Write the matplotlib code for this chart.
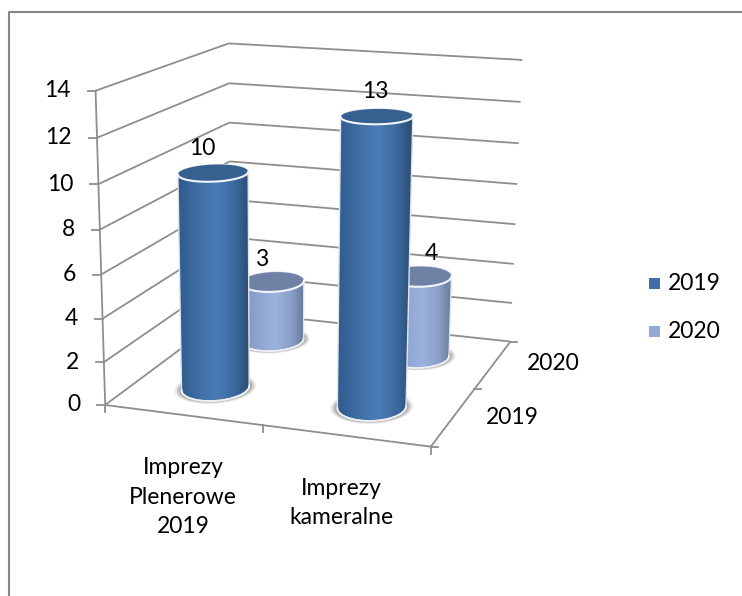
import numpy as np
import matplotlib
matplotlib.use("Agg")
import matplotlib.pyplot as plt
from matplotlib.colors import LinearSegmentedColormap
from matplotlib.patches import Polygon

categories = ["Imprezy\nPlenerowe\n2019", "Imprezy\nkameralne"]
series_names = ["2019", "2020"]
values_2019 = [10, 13]
values_2020 = [3, 4]
z_ticks = [0, 2, 4, 6, 8, 10, 12, 14]

plt.rcParams["font.family"] = ["Lato", "DejaVu Sans"]
FS = 16.5
GREY = "#8e8e8e"

fig = plt.figure(figsize=(7.42, 5.96), dpi=100)
ax = fig.add_axes([0, 0, 1, 1])

# Projective camera of the 3D box: (category, depth, value) -> pixel
world = np.array([(0, 0, 0), (0, 0, 14), (0, 2, 0), (0, 2, 14),
                  (2, 2, 0), (2, 2, 14), (2, 0, 0), (2, 0, 14)], float)
pix = np.array([(106.7, 403), (94, 89), (229, 314), (230.7, 44),
                (511.7, 339.3), (521, 59), (430, 448.3), (441, 116)], float)
A = []
for (X, Y, Z), (u, v) in zip(world, pix):
    A.append([X, Y, Z, 1, 0, 0, 0, 0, -u * X, -u * Y, -u * Z, -u])
    A.append([0, 0, 0, 0, X, Y, Z, 1, -v * X, -v * Y, -v * Z, -v])
P = np.linalg.svd(np.array(A))[2][-1].reshape(3, 4)


def proj(x, d, z):
    x, d, z = np.broadcast_arrays(x, d, z)
    h = P @ np.vstack([x.ravel(), d.ravel(), z.ravel(), np.ones(x.size)])
    return h[0] / h[2], h[1] / h[2]


def seg(a, b, **kw):
    xs, ys = proj(*np.array([a, b], float).T)
    ax.plot(xs, ys, color=GREY, lw=kw.get("lw", 1.3), solid_capstyle="butt", zorder=kw.get("z", 2))


# chart frame (top and left edges only are in view)
ax.plot([9, 9, 742], [596, 11.5, 11.5], color="#868686", lw=1.5, zorder=1)

# walls, gridlines, axes
for z in z_ticks:
    seg((0, 0, z), (0, 2, z))
    seg((0, 2, z), (2, 2, z))
    xt, yt = proj(0, 0, z)
    ax.plot([xt[0] - 8, xt[0]], [yt[0], yt[0]], color=GREY, lw=1.3, zorder=2)
    ax.text(xt[0] - 25, yt[0], str(z), ha="right", va="center", fontsize=FS, color="black")
seg((0, 0, 0), (0, 0, 14))
seg((0, 0, 0), (2, 0, 0))
seg((2, 0, 0), (2, 2, 0))
for c in (0, 1, 2):
    xt, yt = proj(c, 0, 0)
    ax.plot([xt[0], xt[0]], [yt[0], yt[0] + 7], color=GREY, lw=1.3, zorder=2)
for d in (0, 1, 2):
    xt, yt = proj(2, d, 0)
    ax.plot([xt[0], xt[0] + 7], [yt[0], yt[0]], color=GREY, lw=1.3, zorder=2)

dark_cm = LinearSegmentedColormap.from_list("d", [(0, "#2f5a8c"), (.3, "#3f6fa6"), (.55, "#4a7cb6"),
                                                   (.8, "#3b689c"), (1, "#2b4a70")])
light_cm = LinearSegmentedColormap.from_list("l", [(0, "#7c90b8"), (.3, "#90a6d2"), (.55, "#9bb2de"),
                                                    (.8, "#8ba0c8"), (1, "#66799a")])
styles = {0: (dark_cm, "#36608f"), 1: (light_cm, "#6f82a6")}
RX, RD = 0.2, 0.24
t = np.linspace(0, 2 * np.pi, 360, endpoint=False)


def side_arc(xs, ys, want_lower):
    """Ordered left-to-right arc of a projected circle between its x extremes."""
    il, ir = int(xs.argmin()), int(xs.argmax())
    n = len(xs)
    a = [(il + k) % n for k in range((ir - il) % n + 1)]
    b = [(il - k) % n for k in range((il - ir) % n + 1)]
    lower_first = ys[a].mean() > ys[b].mean()
    sel = a if lower_first == want_lower else b
    return np.c_[xs[sel], ys[sel]]


def cylinder(c, s, val, zo):
    cm, topcol = styles[s]
    cx, cd = c + .5, s + .5
    bx, by = proj(cx + RX * np.cos(t), cd + RD * np.sin(t), 0 * t)
    tx, ty = proj(cx + RX * np.cos(t), cd + RD * np.sin(t), val + 0 * t)
    # soft shadow on the floor
    for k, a in ((1.2, .14), (1.14, .2), (1.08, .3)):
        sx, sy = proj(cx + k * RX * np.cos(t), cd + k * RD * np.sin(t), 0 * t)
        ax.fill(sx, sy, color="#5f5f5f", alpha=a, lw=0, zorder=zo)

    low = side_arc(bx, by, True)
    up = side_arc(tx, ty, False)[::-1]
    front = side_arc(tx, ty, True)
    body = np.vstack([low, up])
    grad = np.linspace(0, 1, 256)[None, :]
    xa, xb = min(bx.min(), tx.min()), max(bx.max(), tx.max())
    im = ax.imshow(grad, extent=[xa, xb, by.max(), ty.min()], aspect="auto", cmap=cm, zorder=zo + .1)
    im.set_clip_path(Polygon(body, transform=ax.transData))
    ax.plot(*np.vstack([body, body[0]]).T, color="#dfe5ee", lw=1.0, zorder=zo + .2)
    ax.fill(tx, ty, color=topcol, lw=0, zorder=zo + .3)
    ax.plot(*front.T, color="#f2f5fa", lw=1.5, zorder=zo + .4)
    ax.plot(*low.T, color="#eef0f4", lw=1.3, zorder=zo + .4)
    return ty.min()


order = [(0, 1, values_2020[0]), (1, 1, values_2020[1]), (0, 0, values_2019[0]), (1, 0, values_2019[1])]
offs = {(0, 1): (-11, -13), (1, 1): (12, -13), (0, 0): (-11, -16), (1, 0): (-1, -17)}
for n, (c, s, v) in enumerate(order):
    top = cylinder(c, s, v, 3 + n)
    lx, _ = proj(c + .5, s + .5, v)
    ox, oy = offs[(c, s)]
    ax.text(lx[0] + ox, top + oy, str(v), ha="center", va="center", fontsize=FS, color="black", zorder=10)

# category and depth labels
cat_pos = [(183, 497), (341, 503)]
for lab, (x, y) in zip(categories, cat_pos):
    ax.text(x, y, lab, ha="center", va="center", fontsize=FS, linespacing=1.52, color="black")
for name, (x, y) in zip(series_names, [(512, 418), (553, 364)]):
    ax.text(x, y, name, ha="center", va="center", fontsize=FS, color="black")

# legend
for name, col, y in zip(series_names, ["#3f6fa6", "#94aad6"], [283, 331]):
    ax.add_patch(plt.Rectangle((649, y - 5.5), 11, 11, color=col, lw=0, zorder=3))
    ax.text(668, y, name, ha="left", va="center", fontsize=FS, color="black")

ax.set_xlim(0, 742)
ax.set_ylim(596, 0)
ax.axis("off")
fig.savefig("out.png", dpi=100, facecolor="white")
